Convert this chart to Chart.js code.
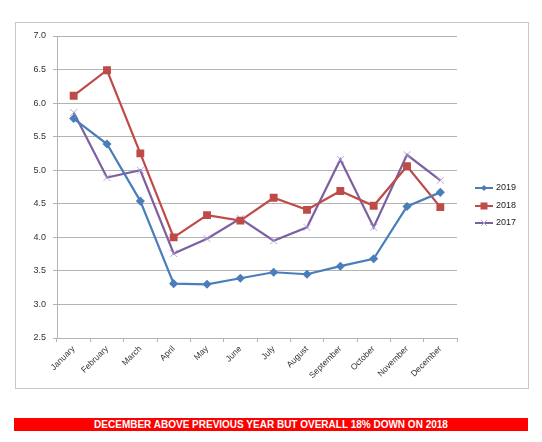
<!DOCTYPE html>
<html><head><meta charset="utf-8">
<script src="https://cdn.jsdelivr.net/npm/chart.js@4.4.1/dist/chart.umd.min.js"></script>
<style>
html,body{margin:0;padding:0;background:#fff;width:542px;height:442px;overflow:hidden;}
#box{position:absolute;left:15px;top:22px;width:514px;height:367px;border:1px solid #c8c8c8;box-sizing:border-box;}
#wrap{position:absolute;left:0;top:0;width:542px;height:442px;}
#banner{position:absolute;left:14px;top:418px;width:514px;height:13px;background:#ff0000;color:#fff;font:bold 10px "Liberation Sans",Arial,sans-serif;text-align:center;line-height:13px;}
</style></head>
<body>
<div id="box"></div>
<div id="wrap"><canvas id="c" width="542" height="442"></canvas></div>
<div id="banner">DECEMBER ABOVE PREVIOUS YEAR BUT OVERALL 18% DOWN ON 2018</div>
<script>
const months = ["January","February","March","April","May","June","July","August","September","October","November","December"];
const s2019 = [5.77,5.39,4.54,3.31,3.30,3.39,3.48,3.45,3.57,3.68,4.46,4.67];
const s2018 = [6.11,6.49,5.25,4.00,4.33,4.25,4.59,4.41,4.69,4.47,5.06,4.45];
const s2017 = [5.86,4.89,5.00,3.76,3.98,4.28,3.95,4.15,5.16,4.15,5.23,4.85];
const yMin = 2.5, yMax = 7.0, yStep = 0.5;

const FONT = '"Liberation Sans", Arial, sans-serif';

function crossCanvas(color){
  const c = document.createElement('canvas');
  c.width = 9; c.height = 9;
  const g = c.getContext('2d');
  g.strokeStyle = color; g.lineWidth = 1;
  g.beginPath(); g.moveTo(1,1); g.lineTo(8,8); g.moveTo(8,1); g.lineTo(1,8); g.stroke();
  return c;
}

const legendPlugin = {
  id:'customLegend',
  afterDraw(chart){
    const ctx = chart.ctx;
    const ys = [188,206,223];
    ctx.save();
    chart.data.datasets.forEach((ds,i)=>{
      const y = ys[i];
      ctx.strokeStyle = ds.borderColor; ctx.lineWidth = 2;
      ctx.beginPath(); ctx.moveTo(475,y); ctx.lineTo(493,y); ctx.stroke();
      const cx = 484;
      if(ds.pointStyle==='rectRot'){
        ctx.fillStyle = ds.pointBackgroundColor;
        ctx.beginPath(); ctx.moveTo(cx,y-3); ctx.lineTo(cx+3,y); ctx.lineTo(cx,y+3); ctx.lineTo(cx-3,y); ctx.closePath(); ctx.fill();
      } else if(ds.pointStyle==='rect'){
        ctx.fillStyle = ds.pointBackgroundColor;
        ctx.fillRect(cx-3.5,y-3.5,7,7);
      } else {
        ctx.strokeStyle = '#b7a6d6'; ctx.lineWidth = 1;
        ctx.beginPath(); ctx.moveTo(cx-3,y-3); ctx.lineTo(cx+3,y+3); ctx.moveTo(cx+3,y-3); ctx.lineTo(cx-3,y+3); ctx.stroke();
      }
      ctx.fillStyle = '#222'; ctx.font = '9px ' + FONT;
      ctx.textBaseline = 'middle'; ctx.textAlign = 'left';
      ctx.fillText(ds.label, 496, y);
    });
    ctx.restore();
  }
};

new Chart(document.getElementById('c'), {
  type:'line',
  data:{
    labels: months,
    datasets:[
      {label:'2019', data:s2019, borderColor:'#4a7ebb', backgroundColor:'#4a7ebb', pointBackgroundColor:'#4a7ebb', pointBorderColor:'#4a7ebb', pointStyle:'rectRot', pointRadius:3, borderWidth:2.2, tension:0},
      {label:'2018', data:s2018, borderColor:'#be4b48', backgroundColor:'#be4b48', pointBackgroundColor:'#be4b48', pointBorderColor:'#be4b48', pointStyle:'rect', pointRadius:4, borderWidth:2.2, tension:0},
      {label:'2017', data:s2017, borderColor:'#7d60a0', backgroundColor:'#7d60a0', pointStyle:crossCanvas('#b7a6d6'), pointRadius:4, borderWidth:2.2, tension:0}
    ]
  },
  options:{
    responsive:false, animation:false, devicePixelRatio:1,
    layout:{padding:{left:0, top:36, right:85, bottom:40}},
    plugins:{legend:{display:false}, tooltip:{enabled:false}},
    scales:{
      y:{
        min:yMin, max:yMax,
        ticks:{stepSize:yStep, color:'#333', font:{family:FONT,size:9}, padding:7, callback:v=>v.toFixed(1)},
        grid:{color:'#b4b4b4', lineWidth:1, tickLength:4},
        border:{color:'#b4b4b4'},
        afterFit(s){ s.width = 57; }
      },
      x:{
        offset:true,
        ticks:{color:'#333', font:{family:FONT,size:8.5}, minRotation:45, maxRotation:45, padding:2, autoSkip:false},
        grid:{offset:true, drawOnChartArea:false, drawTicks:true, tickLength:4, color:'#b4b4b4'},
        border:{color:'#b4b4b4'},
        afterFit(s){ s.height = 64; }
      }
    }
  },
  plugins:[legendPlugin]
});
</script>
</body></html>
